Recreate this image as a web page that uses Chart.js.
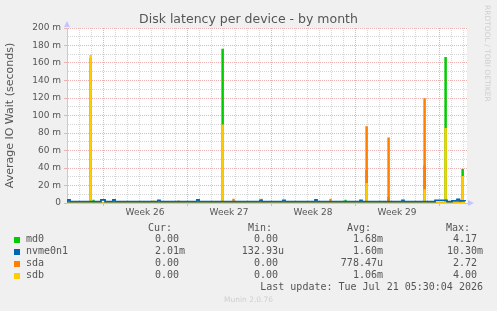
<!DOCTYPE html>
<html><head><meta charset="utf-8">
<script src="https://cdn.jsdelivr.net/npm/chart.js@4/dist/chart.umd.min.js"></script>
<style>
html,body{margin:0;padding:0;background:#f0f0f0;}
#wrap{position:relative;width:497px;height:311px;overflow:hidden;background:#f0f0f0;}
#c{position:absolute;left:0;top:0;}
.mono{position:absolute;white-space:pre;font-family:"DejaVu Sans Mono",monospace;font-size:10px;line-height:12px;color:#555;}
.sw{position:absolute;width:6px;height:6px;}
#title{position:absolute;left:0;width:497px;top:11px;text-align:center;font-family:"DejaVu Sans",sans-serif;font-size:12.5px;line-height:15px;color:#555;white-space:pre;}
#rrd{position:absolute;left:483px;top:5px;writing-mode:vertical-rl;font-family:"DejaVu Sans",sans-serif;font-size:7.5px;color:#cfcfcf;white-space:pre;}
#munin{position:absolute;left:0;width:497px;top:295px;text-align:center;font-family:"DejaVu Sans",sans-serif;font-size:7.5px;line-height:10px;color:#cfcfcf;}
</style>
</head><body>
<div id="wrap">
<canvas id="c" width="497" height="311"></canvas>
<div id="title">Disk latency per device - by month</div>
<div id="rrd">RRDTOOL / TOBI OETIKER</div>
<div id="munin">Munin 2.0.76</div>
</div>
<script>
// ---- data (x in days from left edge of graph, y in milliseconds) ----
const seriesNames = ['md0', 'nvme0n1', 'sda', 'sdb'];
const seriesColors = ['#00cc00', '#0066b3', '#ff8000', '#ffcc00'];

const md0Pts = [[0,0],[1.92,165],[2.02,0],[2.17,3],[2.25,0],[12.92,175.5],[13.02,0],
  [23.17,3],[23.25,0],[24.92,37],[25.02,0],[26.75,6],[26.85,0],[29.75,42],[29.85,0],
  [31.5,166],[31.6,0],[32.92,38],[33.02,0],[33.17,0]];
const nvmePts = [[0,1.5],[0.08,3.5],[0.25,1.5],[2.83,3.5],[3.17,1.5],[3.83,3.5],[4.0,1.5],
  [7.58,3],[7.75,1.5],[10.83,3.5],[11.0,1.5],[16.08,3],[16.25,1.5],[18.0,3],[18.17,1.5],
  [20.67,3.5],[20.83,1.5],[24.42,3],[24.58,1.5],[27.92,3],[28.08,1.5],[30.67,3],[31.67,1.5],
  [32.08,2.5],[32.5,4],[32.67,2.5],[33.17,2.01]];
const sdaPts = [[0,0],[9.25,2],[9.33,0],[13.83,4],[13.92,0],[16.17,4],[16.25,0],[21.92,4],[22.0,0],
  [24.92,87],[25.02,0],[26.75,74],[26.85,0],[29.75,119],[29.85,0],[32.67,4],[32.75,0],[33.17,0]];
const sdbPts = [[0,0],[1.92,168.5],[2.02,0],[7.17,2],[7.25,0],[12.92,89],[13.02,0],
  [24.92,22],[25.02,0],[29.75,15],[29.85,0],[31.5,85],[31.6,0],[32.92,30],[33.02,0],[33.17,0]];

const weekLabels = ['Week 26', 'Week 27', 'Week 28', 'Week 29'];
const weekMidDays = [6.5, 13.5, 20.5, 27.5];
const firstWeekBoundary = 3;
const xMaxDays = 33.333;
const yMax = 200, yStep = 10, yMajor = 20;

const curVals = ['0.00', '2.01m', '0.00', '0.00'];
const minVals = ['0.00', '132.93u', '0.00', '0.00'];
const avgVals = ['1.68m', '1.60m', '778.47u', '1.06m'];
const maxVals = ['4.17', '10.30m', '2.72', '4.00'];
const lastUpdate = 'Last update: Tue Jul 21 05:30:04 2026';

// ---- legend (HTML text) ----
const wrap = document.getElementById('wrap');
function txt(s, opts){
  const d = document.createElement('div'); d.className='mono'; d.textContent = s;
  if (opts.right !== undefined) d.style.right = (497 - opts.right) + 'px';
  if (opts.left !== undefined) d.style.left = opts.left + 'px';
  d.style.top = (opts.cy - 6) + 'px';
  wrap.appendChild(d);
}
const pad = v => /[a-z]$/.test(v) ? v : v + ' ';
const hdrY = 228, rowY0 = 239, rowStep = 12;
[['Cur:',172],['Min:',272],['Avg:',371],['Max:',470]].forEach(h => txt(h[0], {right:h[1], cy:hdrY}));
const colEnds = [185, 284, 383, 483];
seriesNames.forEach((n, i) => {
  const cy = rowY0 + i*rowStep;
  const sw = document.createElement('div'); sw.className='sw';
  sw.style.left='14px'; sw.style.top=(cy-2)+'px'; sw.style.background=seriesColors[i];
  wrap.appendChild(sw);
  txt(n, {left:26, cy});
  [curVals, minVals, avgVals, maxVals].forEach((arr, k) => txt(pad(arr[i]), {right:colEnds[k], cy}));
});
txt(lastUpdate, {right:483, cy:287});

// ---- chart ----
const red = 'rgba(232,178,178,1)', gray = 'rgba(214,214,214,1)', axisCol = '#c4c4ff';
const toXY = pts => pts.map(p => ({x:p[0], y:p[1]}));
const allPts = [md0Pts, nvmePts, sdaPts, sdbPts];
const orders = [4, 0, 2, 1];
const widths = [1.3, 1.8, 1.3, 1.3];
const isWeek = v => Number.isInteger(v) && (v - firstWeekBoundary) % 7 === 0;

const plugin = {
  id:'munin',
  beforeDraw(chart){
    const {ctx, chartArea:a} = chart;
    ctx.save(); ctx.fillStyle = '#ffffff';
    ctx.fillRect(a.left, a.top, a.right - a.left, a.bottom - a.top);
    ctx.restore();
  },
  afterDraw(chart){
    const {ctx, chartArea:a} = chart;
    ctx.save(); ctx.fillStyle = axisCol;
    ctx.beginPath(); ctx.moveTo(a.left - 3, a.top - 1); ctx.lineTo(a.left + 3, a.top - 1); ctx.lineTo(a.left, a.top - 7); ctx.closePath(); ctx.fill();
    ctx.beginPath(); ctx.moveTo(a.right + 1, a.bottom - 3); ctx.lineTo(a.right + 1, a.bottom + 3); ctx.lineTo(a.right + 7, a.bottom); ctx.closePath(); ctx.fill();
    ctx.restore();
  }
};

new Chart(document.getElementById('c'), {
  type:'line',
  data:{ datasets: seriesNames.map((n, i) => ({
    label:n, data:toXY(allPts[i]), borderColor:seriesColors[i], backgroundColor:seriesColors[i],
    borderWidth:widths[i], pointRadius:0, stepped:true, fill:false, order:orders[i]
  }))},
  options:{
    responsive:false, animation:false, devicePixelRatio:1,
    layout:{ padding:{ left:0, top:28, right:30, bottom:0 } },
    plugins:{ legend:{display:false}, tooltip:{enabled:false}, title:{display:false} },
    scales:{
      x:{
        type:'linear', min:0, max:xMaxDays,
        afterFit(s){ s.height = 311 - 203; },
        afterBuildTicks(s){ const t=[]; for (let d=0; d<=33; d+=0.5) t.push({value:d}); s.ticks = t; },
        ticks:{ autoSkip:false, maxRotation:0, color:'#555', font:{family:'DejaVu Sans', size:9}, padding:1,
          callback:(v) => { const k = weekMidDays.indexOf(v); return k >= 0 ? weekLabels[k] : ''; } },
        grid:{ color: c => !Number.isInteger(c.tick.value) ? 'rgba(0,0,0,0)' : (isWeek(c.tick.value) ? red : gray),
          lineWidth:1, tickLength:3, tickColor: c => isWeek(c.tick.value) ? red : 'rgba(0,0,0,0)' },
        border:{ color:axisCol, width:1, dash:[1,1] }
      },
      y:{
        type:'linear', min:0, max:yMax,
        afterFit(s){ s.width = 67; },
        afterBuildTicks(s){ const t=[]; for (let v=0; v<=yMax; v+=yStep) t.push({value:v}); s.ticks = t; },
        ticks:{ autoSkip:false, color:'#555', font:{family:'DejaVu Sans', size:9}, padding:3,
          callback:(v) => v % yMajor === 0 ? (v === 0 ? '0' : v + ' m') : '' },
        grid:{ color: c => c.tick.value % yMajor === 0 ? red : gray, lineWidth:1, tickLength:3,
          tickColor: c => c.tick.value % yMajor === 0 ? red : 'rgba(0,0,0,0)' },
        border:{ color:axisCol, width:1, dash:[1,1] },
        title:{ display:true, text:'Average IO Wait (seconds)', color:'#555', font:{family:'DejaVu Sans', size:11}, padding:{top:4, bottom:0} }
      }
    }
  },
  plugins:[plugin]
});
</script>
</body></html>
